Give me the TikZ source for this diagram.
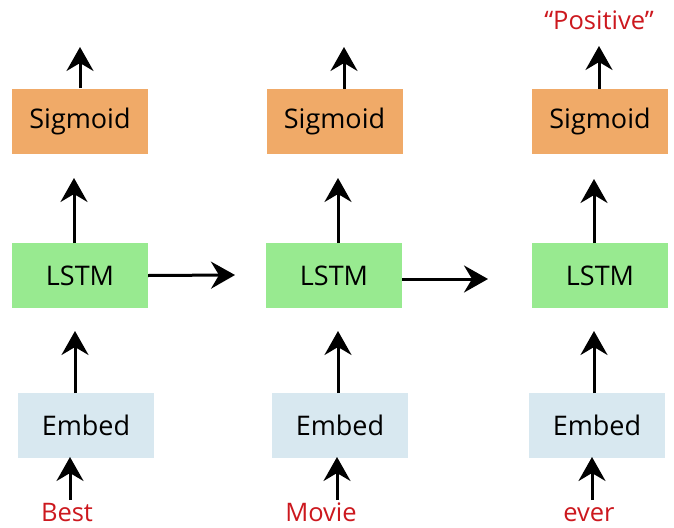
\documentclass[tikz,border=0pt]{standalone}
\usepackage{fontspec}
\setmainfont{Open Sans}
\usetikzlibrary{arrows.meta}
\definecolor{sigc}{RGB}{240,170,104}
\definecolor{lstmc}{RGB}{152,234,144}
\definecolor{embc}{RGB}{216,232,240}
\definecolor{wordc}{RGB}{204,24,30}
\tikzset{
  box/.style={minimum width=136pt,minimum height=65pt,inner sep=0pt,font=\fontsize{27}{30}\selectfont,text=black},
  sigbox/.style={box,fill=sigc},
  lstmbox/.style={box,fill=lstmc},
  embbox/.style={box,fill=embc},
  word/.style={anchor=base,text=wordc,font=\fontsize{25.5}{28}\selectfont,inner sep=0pt},
  arr/.style={line width=3pt,-{Stealth[length=24pt,width=27pt,inset=8pt]}}
}
\begin{document}
\begin{tikzpicture}[x=1pt,y=-1pt]
\useasboundingbox (0,0) rectangle (674,527);
% column 1
\node[sigbox]  (s1) at (80,121) {Sigmoid};
\node[lstmbox] (l1) at (80,275.5) {LSTM};
\node[embbox]  (e1) at (86,425.5) {Embed};
\node[word]    (w1) at (67,521) {Best};
% column 2
\node[sigbox]  (s2) at (334.5,121) {Sigmoid};
\node[lstmbox] (l2) at (334,275.5) {LSTM};
\node[embbox]  (e2) at (340,425.5) {Embed};
\node[word]    (w2) at (321,521) {Movie};
% column 3
\node[sigbox]  (s3) at (600,121) {Sigmoid};
\node[lstmbox] (l3) at (600,275.5) {LSTM};
\node[embbox]  (e3) at (597,425.5) {Embed};
\node[word]    (w3) at (589,521) {ever};
\node[word]    (out) at (599,30) {``Positive''};
% free ends
\coordinate (t1) at (80,47);
\coordinate (t2) at (344,47);
\coordinate (t3) at (599,46);
\coordinate (h1) at (235,275);
\coordinate (h2) at (488,279);
% column 1 arrows
\draw[arr] (s1.north) -- (t1);
\draw[arr] (74,243) -- (74,178);
\draw[arr] (75,393) -- (75,331);
\draw[arr] (70,500) -- (70,457);
% column 2 arrows
\draw[arr] (344,88.5) -- (t2);
\draw[arr] (338,243) -- (338,178);
\draw[arr] (338,393) -- (338,331);
\draw[arr] (337,500) -- (337,457);
% column 3 arrows
\draw[arr] (599,88.5) -- (t3);
\draw[arr] (594,243) -- (594,179);
\draw[arr] (594,393) -- (594,331);
\draw[arr] (592,500) -- (592,457);
% recurrent arrows
\draw[arr] (l1.east) -- (h1);
\draw[arr] (402,279) -- (h2);
\end{tikzpicture}
\end{document}
